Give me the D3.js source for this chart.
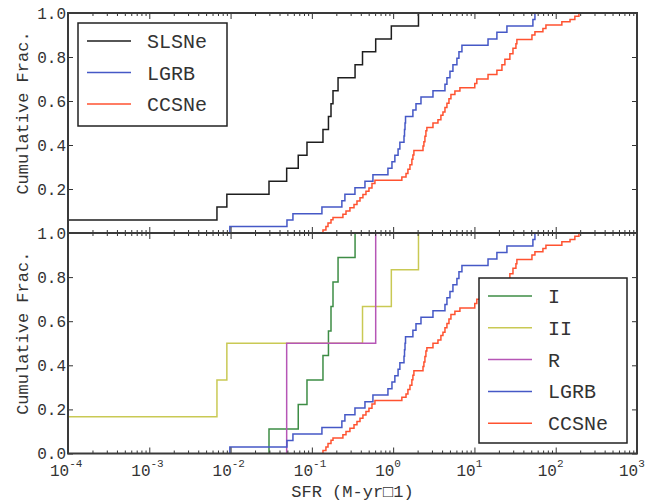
<!DOCTYPE html>
<html>
<head>
<meta charset="utf-8">
<script src="https://cdn.jsdelivr.net/npm/d3@7"></script>
<style>
  body { margin: 0; background: #fff; }
  text { font-family: "Liberation Mono", "DejaVu Sans Mono", monospace; fill: #333; }
</style>
</head>
<body>
<svg id="chart" width="670" height="502"></svg>
<script>
// SFR values (M_sun/yr) and cumulative fractions
const slsneSFR  = [3e-5, 0.0068, 0.0090, 0.0297, 0.049, 0.068, 0.0871, 0.137, 0.16, 0.172, 0.182, 0.21, 0.34, 0.42, 0.61, 0.95, 2.05];
const slsneFrac = [0.059, 0.118, 0.176, 0.235, 0.294, 0.353, 0.412, 0.471, 0.529, 0.588, 0.647, 0.706, 0.765, 0.824, 0.882, 0.941, 1.0];

const typeISFR  = [0.0297, 0.068, 0.0871, 0.137, 0.16, 0.172, 0.182, 0.21, 0.34];
const typeIFrac = [0.111, 0.222, 0.333, 0.444, 0.556, 0.667, 0.778, 0.889, 1.0];

const typeIISFR  = [3e-5, 0.0068, 0.0090, 0.42, 0.95, 2.05];
const typeIIFrac = [0.167, 0.333, 0.5, 0.667, 0.833, 1.0];

const typeRSFR  = [0.049, 0.61];
const typeRFrac = [0.5, 1.0];

const lgrbSFR = [0.0098, 0.0494, 0.0585, 0.133, 0.234, 0.255, 0.339, 0.45, 0.564, 0.863, 0.967,
  1.05, 1.15, 1.21, 1.36, 1.38, 1.40, 1.42, 1.75, 1.91, 2.20, 3.09, 4.34, 4.59, 5.0, 5.44,
  6.09, 6.45, 7.02, 14.7, 18.9, 25.1, 52.4, 55.5];
const lgrbFrac = [0.029, 0.059, 0.088, 0.118, 0.147, 0.176, 0.206, 0.235, 0.265, 0.294, 0.324,
  0.353, 0.382, 0.412, 0.441, 0.471, 0.5, 0.529, 0.559, 0.588, 0.618, 0.647, 0.676, 0.706,
  0.735, 0.765, 0.794, 0.824, 0.853, 0.882, 0.912, 0.941, 0.971, 1.0];

const ccsneSFR = [0.137, 0.149, 0.158, 0.172, 0.182, 0.241, 0.263, 0.294, 0.33, 0.359, 0.391,
  0.425, 0.463, 0.504, 0.549, 0.597, 1.28, 1.44, 1.52, 1.61, 1.70, 1.75, 1.80, 2.33, 2.39,
  2.46, 2.53, 2.60, 3.09, 3.56, 3.87, 4.10, 4.34, 4.59, 4.86, 5.14, 5.75, 6.63, 10.1, 10.7,
  14.7, 18.9, 21.8, 23.7, 27.3, 29.8, 32.4, 33.3, 51.0, 55.5, 69.6, 75.8, 119, 150, 172, 193];
const ccsneFrac = [0.014, 0.03, 0.045, 0.06, 0.07, 0.085, 0.10, 0.115, 0.13, 0.145, 0.16,
  0.175, 0.19, 0.205, 0.225, 0.24, 0.255, 0.27, 0.29, 0.31, 0.335, 0.355, 0.375, 0.395, 0.415,
  0.44, 0.465, 0.48, 0.50, 0.515, 0.535, 0.55, 0.57, 0.59, 0.61, 0.63, 0.645, 0.66, 0.68, 0.70,
  0.72, 0.74, 0.765, 0.79, 0.815, 0.84, 0.86, 0.88, 0.90, 0.915, 0.93, 0.945, 0.96, 0.97, 0.985, 1.0];

const yTicks = [0, 0.2, 0.4, 0.6, 0.8, 1.0];
const xDecades = [-4, -3, -2, -1, 0, 1, 2, 3];

const colors = { SLSNe: "#1e1e1e", LGRB: "#4558c6", CCSNe: "#ff5230", I: "#3d8d45", II: "#c9c954", R: "#b656b6" };

const topSeries = [
  { name: "SLSNe", sfr: slsneSFR, frac: slsneFrac },
  { name: "LGRB", sfr: lgrbSFR, frac: lgrbFrac },
  { name: "CCSNe", sfr: ccsneSFR, frac: ccsneFrac }
];
const botSeries = [
  { name: "I", sfr: typeISFR, frac: typeIFrac },
  { name: "II", sfr: typeIISFR, frac: typeIIFrac },
  { name: "R", sfr: typeRSFR, frac: typeRFrac },
  { name: "LGRB", sfr: lgrbSFR, frac: lgrbFrac },
  { name: "CCSNe", sfr: ccsneSFR, frac: ccsneFrac }
];

const left = 68, right = 637;
const svg = d3.select("#chart");

let x = d3.scaleLog().domain([1e-4, 1e3]).range([left, right]);
let minorTicks = [];
xDecades.slice(0, -1).forEach(d => {
  for (let m = 2; m <= 9; m++) minorTicks.push(m * Math.pow(10, d));
});

function panel(top, bottom, series, showZeroLabel, legendBox, id) {
  let y = d3.scaleLinear().domain([0, 1]).range([bottom, top]);
  let g = svg.append("g");

  g.append("clipPath").attr("id", id)
    .append("rect").attr("x", left).attr("y", top).attr("width", right - left).attr("height", bottom - top);

  let line = d3.line()
    .x(d => x(d[0]))
    .y(d => y(d[1]))
    .curve(d3.curveStepAfter);

  series.forEach(s => {
    let pts = [[s.sfr[0], 0]].concat(s.sfr.map((v, i) => [v, s.frac[i]]));
    g.append("path")
      .attr("clip-path", "url(#" + id + ")")
      .attr("d", line(pts))
      .attr("fill", "none")
      .attr("stroke", colors[s.name])
      .attr("stroke-width", 1.5);
  });

  // ticks, all pointing inward
  let majors = xDecades.map(d => Math.pow(10, d));
  [[d3.axisTop, top], [d3.axisBottom, bottom]].forEach(([ax, yy]) => {
    g.append("g").attr("transform", "translate(0," + yy + ")")
      .call(ax(x).tickValues(majors).tickSize(-6).tickFormat(""));
    g.append("g").attr("transform", "translate(0," + yy + ")")
      .call(ax(x).tickValues(minorTicks).tickSize(-3).tickFormat(""));
  });
  g.append("g").attr("transform", "translate(" + left + ",0)")
    .call(d3.axisLeft(y).tickValues(yTicks).tickSize(-5).tickPadding(2)
      .tickFormat(d => (d === 0 && !showZeroLabel) ? "" : d.toFixed(1)));
  g.append("g").attr("transform", "translate(" + right + ",0)")
    .call(d3.axisRight(y).tickValues(yTicks).tickSize(-5).tickFormat(""));

  g.selectAll(".domain").remove();
  g.selectAll(".tick line").attr("stroke", "#333").attr("stroke-width", 1);
  g.selectAll(".tick text").style("font-size", "16px").attr("fill", "#333");

  g.append("rect")
    .attr("x", left).attr("y", top)
    .attr("width", right - left).attr("height", bottom - top)
    .attr("fill", "none").attr("stroke", "#3a3a3a").attr("stroke-width", 2);

  // y label
  g.append("text")
    .attr("transform", "translate(28," + ((top + bottom) / 2 - 10) + ") rotate(-90)")
    .attr("text-anchor", "middle")
    .style("font-size", "17px")
    .attr("fill", "#444")
    .text("Cumulative Frac.");

  // legend
  let lg = g.append("g");
  lg.append("rect")
    .attr("x", legendBox.x).attr("y", legendBox.y)
    .attr("width", legendBox.w).attr("height", legendBox.h)
    .attr("fill", "#fff").attr("stroke", "#222").attr("stroke-width", 1.5);
  series.forEach((s, i) => {
    let ry = legendBox.y + legendBox.first + i * legendBox.step;
    lg.append("line")
      .attr("x1", legendBox.x + 9).attr("x2", legendBox.x + 53)
      .attr("y1", ry).attr("y2", ry)
      .attr("stroke", colors[s.name]).attr("stroke-width", 1.5);
    lg.append("text")
      .attr("x", legendBox.x + 69).attr("y", ry + 7)
      .style("font-size", "20px").attr("fill", "#222")
      .text(s.name);
  });
  return y;
}

panel(13, 233, topSeries, false, { x: 78, y: 23, w: 149, h: 103, first: 18, step: 31.5 }, "clipTop");
panel(233, 453.5, botSeries, true, { x: 479, y: 278, w: 148, h: 165, first: 18, step: 31.8 }, "clipBot");

// x tick labels 10^n
xDecades.forEach(d => {
  let t = svg.append("text")
    .attr("x", x(Math.pow(10, d)) - 18)
    .attr("y", 476)
    .style("font-size", "16px");
  t.append("tspan").text("10");
  t.append("tspan").attr("dy", -9).style("font-size", "11px").text(d < 0 ? "-" + (-d) : String(d));
});

svg.append("text")
  .attr("x", (left + right) / 2)
  .attr("y", 497)
  .attr("text-anchor", "middle")
  .style("font-size", "17px")
  .attr("fill", "#444")
  .text("SFR (M-yr\u25A11)");
</script>
</body>
</html>
